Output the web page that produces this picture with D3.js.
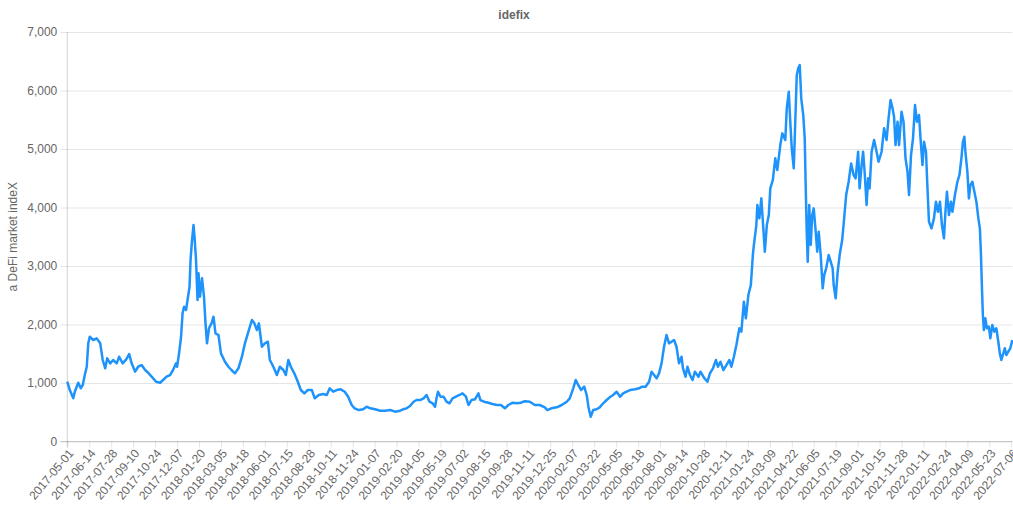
<!DOCTYPE html>
<html>
<head>
<meta charset="utf-8">
<script src="https://cdn.jsdelivr.net/npm/d3@7"></script>
<style>
  html, body { margin: 0; padding: 0; background: #fff; }
  svg { display: block; font-family: "Liberation Sans", Arial, Helvetica, sans-serif; }
</style>
</head>
<body>
<svg id="chart" width="1013" height="506"></svg>
<script>
// ---------------- data ----------------
const chartTitle = "idefix";
const yAxisTitle = "a DeFi market indeX";
const startDate = "2017-05-01";

// days since startDate
const dayOffsets = [
  0,5,12,15,22,27,31,35,39,42,45,52,59,66,71,76,80,86,92,99,104,111,118,124,129,136,142,149,156,162,169,178,186,192,199,206,212,218,220,224,228,231,234,238,241,245,247,250,253,255,258,261,263,266,270,274,277,280,284,289,293,297,303,
  308,316,323,329,336,343,350,356,363,370,375,380,384,390,396,402,406,413,420,426,433,438,443,448,455,462,468,475,482,490,496,504,513,520,526,533,540,548,556,563,570,576,584,593,600,
  607,617,627,637,647,657,667,673,680,687,694,700,707,714,720,726,732,737,740,743,748,754,760,766,772,779,786,792,799,804,810,817,824,828,835,844,852,861,869,877,884,893,901,909,917,
  927,937,947,957,962,970,981,991,1001,1007,1014,1019,1024,1030,1036,1041,1045,1049,1054,1061,1067,1074,1081,1087,1094,1101,1108,1114,1121,1128,1138,1146,1152,1159,1166,1171,1176,1181,1186,1191,1196,1201,1206,1211,1216,1221,1226,1231,
  1234,1239,1243,1248,1253,1258,1265,1269,1276,1283,1288,1294,1300,1304,1309,1315,1321,1327,1331,1336,1341,1347,1351,1356,1360,1365,1370,1374,1376,1381,1383,1387,1391,1395,1398,1402,1406,1409,1414,1419,1423,1429,1433,1439,1442,1446,1449,1452,1456,1459,1462,1465,1468,1471,1475,1478,1480,1482,1484,1487,1490,1493,1496,1500,1503,1506,1510,1514,1517,1521,1526,1530,1534,1536,1540,
  1544,1548,1553,1557,1561,1566,1571,1576,1580,1585,1588,1592,1595,1598,1602,1605,1608,1612,1617,1622,1626,1632,1637,1642,1646,1650,1654,1657,1660,1664,1667,1672,1676,1680,1684,1687,1691,1695,1699,1703,1707,1711,1714,1717,1721,1724,1727,1732,1737,1741,1745,1749,1753,1757,1760,1763,1767,1771,1774,1779,1784,1788,1792,1795,1798,1800,1804,1807,1810,1814,1818,1822,1826,1829,1831,1833,1835,1837,1840,1843,1847,1850,1854,1858,1862,1866,1869,1872,1876,1879,1882,1886,1890,1894
];

const indexValues = [
  1022,880,740,851,1005,909,966,1136,1278,1678,1791,1735,1763,1678,1393,1251,1422,1336,1393,1336,1449,1336,1405,1495,1336,1193,1278,1307,1222,1176,1108,1022,1005,1051,1108,1136,1222,1336,1278,1507,1791,2191,2304,2247,2418,2645,3102,3444,3700,3500,3102,2418,2874,2475,2789,2475,2020,1678,1935,2020,2133,1849,1820,
  1507,1364,1278,1222,1165,1251,1449,1678,1877,2076,2020,1906,2020,1620,1678,1706,1393,1278,1136,1278,1222,1136,1393,1278,1165,1022,880,823,880,880,738,795,812,795,909,851,880,892,851,766,624,567,538,550,595,
  567,550,527,527,538,510,527,550,567,607,680,709,709,738,795,680,653,595,738,851,766,766,680,653,738,766,795,823,766,624,709,721,823,709,680,663,641,624,624,567,624,663,653,663,690,
  680,624,624,584,538,567,584,624,680,738,909,1051,966,880,937,795,567,424,538,550,584,653,709,755,795,851,766,823,851,880,892,909,937,937,1022,1193,1136,1080,1165,1336,1620,1820,1678,1706,1735,1620,1336,1449,
  1251,1108,1278,1136,1051,1193,1108,1193,1091,1022,1165,1251,1393,1278,1364,1222,1307,1393,1278,1449,1649,1935,1877,2389,2105,2504,2675,3187,3358,3700,4042,3814,4156,3643,3244,3700,3871,4327,4469,4840,4640,5067,5267,5153,5694,5978,5465,5011,4669,5465,6263,6378,6434,5865,5580,5182,4327,3586,3073,4042,3358,3871,3985,3586,3244,3586,3187,2618,2845,2960,3187,3073,2960,2675,2447,
  2902,3187,3444,3814,4213,4440,4754,4554,4498,4953,4327,4725,4953,4611,4042,4498,4327,4953,5153,4953,4782,4953,5353,5153,5523,5836,5694,5551,5067,5465,5067,5637,5465,4840,4611,4213,4896,5182,5751,5465,5580,5067,4725,5124,4953,4327,3757,3643,3814,4099,3928,4099,3700,3473,3928,4269,3871,4099,3928,4213,4440,4554,4840,5124,5209,4953,4611,4156,4383,4440,4269,4099,3814,3643,3244,2675,2162,1906,2105,1935,1963,1763,1991,1877,1935,1706,1507,1393,1507,1593,1478,1535,1593,1735
];

const xTickLabels = [
  "2017-05-01","2017-06-14","2017-07-28","2017-09-10","2017-10-24","2017-12-07","2018-01-20","2018-03-05",
  "2018-04-18","2018-06-01","2018-07-15","2018-08-28","2018-10-11","2018-11-24","2019-01-07","2019-02-20",
  "2019-04-05","2019-05-19","2019-07-02","2019-08-15","2019-09-28","2019-11-11","2019-12-25","2020-02-07",
  "2020-03-22","2020-05-05","2020-06-18","2020-08-01","2020-09-14","2020-10-28","2020-12-11","2021-01-24",
  "2021-03-09","2021-04-22","2021-06-05","2021-07-19","2021-09-01","2021-10-15","2021-11-28","2022-01-11",
  "2022-02-24","2022-04-09","2022-05-23","2022-07-06"
];
const yTickValues = [0,1000,2000,3000,4000,5000,6000,7000];

// ---------------- drawing ----------------
const parse = d3.utcParse("%Y-%m-%d");
const t0 = parse(startDate);
const points = dayOffsets.map((d, i) => ({ date: d3.utcDay.offset(t0, d), value: indexValues[i] }));

const plot = { left: 67.3, right: 1012.3, top: 32, bottom: 441.5 };
const textColor = "#666";
const gridColor = "rgba(0,0,0,0.1)";

const svg = d3.select("#chart");

const x = d3.scaleUtc()
  .domain([t0, points[points.length - 1].date])
  .range([plot.left, plot.right]);
const y = d3.scaleLinear()
  .domain([0, 7000])
  .range([plot.bottom, plot.top]);

// Y axis with grid
const yAxis = d3.axisLeft(y)
  .tickValues(yTickValues)
  .tickFormat(d3.format(","))
  .tickSize(-(plot.right - plot.left))
  .tickPadding(10);
const gy = svg.append("g")
  .attr("transform", `translate(${plot.left},0)`)
  .call(yAxis);
gy.select(".domain").remove();
gy.selectAll(".tick line")
  .attr("stroke", gridColor)
  .attr("x1", -7);
gy.selectAll(".tick text")
  .attr("fill", textColor)
  .attr("font-size", 12)
  .attr("x", -10);

// X axis with grid
const xTicks = xTickLabels.map(parse);
const xAxis = d3.axisBottom(x)
  .tickValues(xTicks)
  .tickFormat(d3.utcFormat("%Y-%m-%d"))
  .tickSize(-(plot.bottom - plot.top));
const gx = svg.append("g")
  .attr("transform", `translate(0,${plot.bottom})`)
  .call(xAxis);
gx.select(".domain").remove();
gx.selectAll(".tick line")
  .attr("stroke", gridColor)
  .attr("y2", 6);
gx.selectAll(".tick text")
  .attr("fill", textColor)
  .attr("font-size", 12)
  .attr("text-anchor", "end")
  .attr("dy", null)
  .attr("y", null)
  .attr("transform", "translate(4,10) rotate(-50)")
  .attr("dominant-baseline", "middle");

// axis border lines
svg.append("line")
  .attr("x1", plot.left).attr("x2", plot.left)
  .attr("y1", plot.top).attr("y2", plot.bottom + 6)
  .attr("stroke", "rgba(0,0,0,0.18)");
svg.append("line")
  .attr("x1", plot.left - 7).attr("x2", plot.right)
  .attr("y1", plot.bottom).attr("y2", plot.bottom)
  .attr("stroke", "rgba(0,0,0,0.18)");

// line
const line = d3.line()
  .x(d => x(d.date))
  .y(d => y(d.value));
svg.append("path")
  .datum(points)
  .attr("fill", "none")
  .attr("stroke", "#1e93fb")
  .attr("stroke-width", 2.5)
  .attr("stroke-linejoin", "round")
  .attr("d", line);

// titles
svg.append("text")
  .attr("x", 514)
  .attr("y", 19)
  .attr("text-anchor", "middle")
  .attr("font-size", 12)
  .attr("font-weight", "bold")
  .attr("fill", textColor)
  .text(chartTitle);

svg.append("text")
  .attr("transform", `translate(17,${(plot.top + plot.bottom) / 2}) rotate(-90)`)
  .attr("text-anchor", "middle")
  .attr("font-size", 12)
  .attr("fill", textColor)
  .text(yAxisTitle);
</script>
</body>
</html>
